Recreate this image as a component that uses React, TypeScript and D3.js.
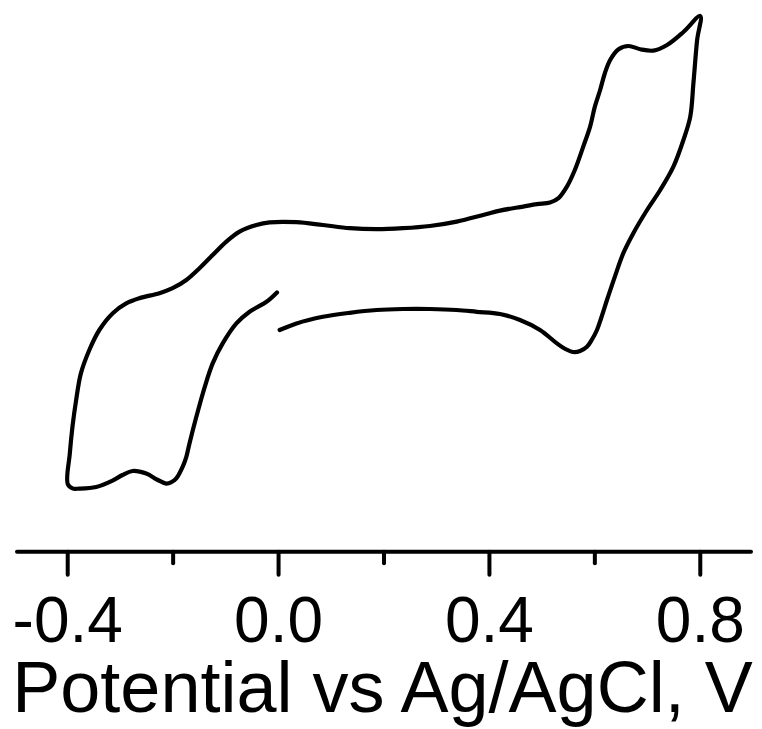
import React from "react";
import * as d3 from "d3";

// Potential (V vs Ag/AgCl) and current (arbitrary units), in scan order
const potential: number[] = [
  0.002, 0.034, 0.084, 0.135, 0.186, 0.236, 0.287, 0.338, 0.376, 0.42, 0.458, 0.496, 0.528, 0.544, 0.559,
  0.572, 0.585, 0.594, 0.604, 0.612, 0.623, 0.638, 0.654, 0.673, 0.699, 0.724, 0.749, 0.768, 0.781, 0.787,
  0.794, 0.8,
  0.768, 0.737, 0.711, 0.686, 0.664, 0.645, 0.629, 0.619, 0.61, 0.6, 0.591, 0.578, 0.562, 0.547, 0.531,
  0.515, 0.49, 0.464, 0.42, 0.388, 0.338, 0.287, 0.236, 0.186, 0.135, 0.084, 0.034, -0.017, -0.042, -0.074,
  -0.099, -0.125, -0.15, -0.175, -0.201, -0.226, -0.264, -0.289, -0.315, -0.34, -0.359, -0.375, -0.384,
  -0.391, -0.396, -0.4,
  -0.391, -0.378, -0.346, -0.315, -0.296, -0.277, -0.251, -0.229, -0.213, -0.203, -0.194, -0.182, -0.175,
  -0.169, -0.156, -0.14, -0.125, -0.106, -0.08, -0.055, -0.023, -0.003,
];
const current: number[] = [
  -1.5, -1.17, -0.84, -0.64, -0.5, -0.45, -0.45, -0.5, -0.59, -0.7, -1.0, -1.5, -2.17, -2.45, -2.6,
  -2.55, -2.34, -2.0, -1.5, -0.9, 0.0, 1.17, 2.34, 3.34, 4.5, 5.5, 6.67, 8.0, 9.17, 10.85,
  13.0, 14.2,
  13.4, 12.75, 12.47, 12.54, 12.7, 12.54, 12.0, 11.34, 10.5, 9.67, 8.67, 7.67, 6.5, 5.67, 5.09,
  4.87, 4.79, 4.67, 4.47, 4.25, 3.92, 3.7, 3.59, 3.54, 3.59, 3.75, 3.89, 3.88, 3.75, 3.42,
  2.92, 2.25, 1.59, 1.0, 0.59, 0.34, 0.09, -0.17, -0.67, -1.5, -2.5, -3.67, -5.0,
  -6.34, -7.67, -9.2,
  -9.42, -9.43, -9.35, -9.03, -8.75, -8.55, -8.68, -9.0, -9.18, -9.1, -8.92, -8.34, -7.84,
  -7.17, -5.84, -4.34, -3.17, -2.17, -1.17, -0.59, -0.09, 0.38,
];

const majorTicks: number[] = [-0.4, 0.0, 0.4, 0.8];
const majorTickLabels: string[] = ["-0.4", "0.0", "0.4", "0.8"];
const minorTicks: number[] = [-0.2, 0.2, 0.6];
const xTitle = "Potential vs Ag/AgCl, V";

const W = 762;
const H = 729;

export default function App() {
  const x = d3.scaleLinear().domain([-0.5, 0.9]).range([15, 753]);
  const y = d3.scaleLinear().domain([-10, 15]).range([500, 0]);
  const pts: [number, number][] = potential.map((p, i) => [p, current[i]]);
  const line = d3
    .line<[number, number]>()
    .x((d) => x(d[0]))
    .y((d) => y(d[1]))
    .curve(d3.curveCatmullRom.alpha(0.5));
  const axisY = 551.7;
  const font = "'Liberation Sans', Arial, Helvetica, sans-serif";
  const [d0, d1] = x.domain();
  return (
    <svg
      width={W}
      height={H}
      style={{ position: "absolute", left: 0, top: 0, background: "#fff" }}
    >
      <rect x={0} y={0} width={W} height={H} fill="#fff" />
      <path
        d={line(pts) || ""}
        fill="none"
        stroke="#000"
        strokeWidth={4.2}
        strokeLinejoin="round"
        strokeLinecap="round"
      />
      <line
        x1={x(d0) + 2}
        x2={x(d1) - 2}
        y1={axisY}
        y2={axisY}
        stroke="#000"
        strokeWidth={4}
        strokeLinecap="round"
      />
      {majorTicks.map((t) => (
        <line
          key={"M" + t}
          x1={x(t)}
          x2={x(t)}
          y1={axisY}
          y2={axisY + 23}
          stroke="#000"
          strokeWidth={4}
          strokeLinecap="round"
        />
      ))}
      {minorTicks.map((t) => (
        <line
          key={"m" + t}
          x1={x(t)}
          x2={x(t)}
          y1={axisY}
          y2={axisY + 11.5}
          stroke="#000"
          strokeWidth={4}
          strokeLinecap="round"
        />
      ))}
      {majorTicks.map((t, i) => (
        <text
          key={"L" + t}
          x={x(t)}
          y={642}
          textAnchor="middle"
          fontFamily={font}
          fontSize={64}
          fill="#000"
        >
          {majorTickLabels[i]}
        </text>
      ))}
      <text
        x={382.5}
        y={712}
        textAnchor="middle"
        fontFamily={font}
        fontSize={72}
        fill="#000"
      >
        {xTitle}
      </text>
    </svg>
  );
}
